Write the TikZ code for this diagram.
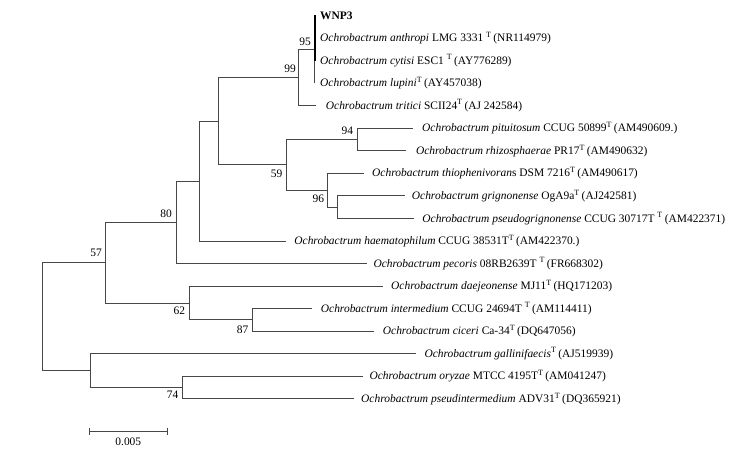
\documentclass[tikz,border=0pt]{standalone}
\usepackage{fontspec}
\setmainfont{Liberation Serif}
\usetikzlibrary{arrows.meta}
\newcommand\supT{\textsuperscript{T}}
\begin{document}
\begin{tikzpicture}[x=1bp,y=-1bp,
  branch/.style={draw=black!72,line width=0.9bp},
  leaf/.style={anchor=west,inner sep=0pt,font=\fontsize{11.5}{13}\selectfont},
  boot/.style={anchor=center,inner sep=0pt,font=\fontsize{11.5}{13}\selectfont}]
\useasboundingbox (0,0) rectangle (736,449);
% internal nodes
\coordinate (root) at (42,316.7);
\coordinate (n57) at (105.3,262.7);
\coordinate (n80) at (176,222.3);
\coordinate (nA) at (199,181.1);
\coordinate (nB) at (218.7,121.2);
\coordinate (n99) at (298.7,77.5);
\coordinate (n95) at (314.7,49.3);
\coordinate (n59) at (286,164.9);
\coordinate (n94) at (357.7,139.5);
\coordinate (n96p) at (327.3,190.3);
\coordinate (n96) at (337.3,207.2);
\coordinate (n62) at (189,303);
\coordinate (n87) at (252,319.9);
\coordinate (nC) at (90.7,370.7);
\coordinate (n74) at (182.7,387.6);
% leaf ends
\coordinate (e0) at (314.7,15.5);
\coordinate (e1) at (314.7,38.05);
\coordinate (e2) at (314.7,60.6);
\coordinate (e3) at (314.7,83.15);
\coordinate (e4) at (316,105.7);
\coordinate (e5) at (413,128.25);
\coordinate (e6) at (406,150.8);
\coordinate (e7) at (364,173.35);
\coordinate (e8) at (405,195.9);
\coordinate (e9) at (414,218.45);
\coordinate (e10) at (286.4,241);
\coordinate (e11) at (366.7,263.55);
\coordinate (e12) at (382.7,286.1);
\coordinate (e13) at (311.7,308.65);
\coordinate (e14) at (374.3,331.2);
\coordinate (e15) at (415.7,353.75);
\coordinate (e16) at (362.7,376.3);
\coordinate (e17) at (354,398.85);
% branches
\draw[branch] (root) |- (n57);
\draw[branch] (root) |- (nC);
\draw[branch] (n57) |- (n80);
\draw[branch] (n57) |- (n62);
\draw[branch] (n80) |- (nA);
\draw[branch] (n80) |- (e11);
\draw[branch] (nA) |- (nB);
\draw[branch] (nA) |- (e10);
\draw[branch] (nB) |- (n99);
\draw[branch] (nB) |- (n59);
\draw[branch] (n99) |- (n95);
\draw[branch] (n99) |- (e4);
\draw[branch] (n95) |- (e0);
\draw[branch] (n95) |- (e3);
\draw[draw=black,line width=2bp] (e0) -- (e2);
\draw[branch] (n59) |- (n94);
\draw[branch] (n59) |- (n96p);
\draw[branch] (n94) |- (e5);
\draw[branch] (n94) |- (e6);
\draw[branch] (n96p) |- (e7);
\draw[branch] (n96p) |- (n96);
\draw[branch] (n96) |- (e8);
\draw[branch] (n96) |- (e9);
\draw[branch] (n62) |- (e12);
\draw[branch] (n62) |- (n87);
\draw[branch] (n87) |- (e13);
\draw[branch] (n87) |- (e14);
\draw[branch] (nC) |- (e15);
\draw[branch] (nC) |- (n74);
\draw[branch] (n74) |- (e16);
\draw[branch] (n74) |- (e17);
% leaf labels
\node[leaf] (t0) at (320,15.5) {\textbf{WNP3}};
\node[leaf] (t1) at (320,38.05) {\textit{Ochrobactrum anthropi} LMG 3331 \supT\,(NR114979)};
\node[leaf] (t2) at (320,60.6) {\textit{Ochrobactrum cytisi} ESC1 \supT\,(AY776289)};
\node[leaf] (t3) at (320,83.15) {\textit{Ochrobactrum lupini}\supT\,(AY457038)};
\node[leaf] (t4) at (325.7,105.7) {\textit{Ochrobactrum tritici} SCII24\supT\,(AJ 242584)};
\node[leaf] (t5) at (422,128.25) {\textit{Ochrobactrum pituitosum} CCUG 50899\supT\,(AM490609.)};
\node[leaf] (t6) at (415.8,150.8) {\textit{Ochrobactrum rhizosphaerae} PR17\supT\,(AM490632)};
\node[leaf] (t7) at (372,173.35) {\textit{Ochrobactrum thiophenivoran}s DSM 7216\supT\,(AM490617)};
\node[leaf] (t8) at (411.7,195.9) {\textit{Ochrobactrum grignonense} OgA9a\supT\,(AJ242581)};
\node[leaf] (t9) at (422.2,218.45) {\textit{Ochrobactrum pseudogrignonense} CCUG 30717T \supT\,(AM422371)};
\node[leaf] (t10) at (294.2,241) {\textit{Ochrobactrum haematophilum} CCUG 38531T\supT\,(AM422370.)};
\node[leaf] (t11) at (373.3,263.55) {\textit{Ochrobactrum pecoris} 08RB2639T \supT\,(FR668302)};
\node[leaf] (t12) at (391,286.1) {\textit{Ochrobactrum daejeonense} MJ11\supT\,(HQ171203)};
\node[leaf] (t13) at (320.7,308.65) {\textit{Ochrobactrum intermedium} CCUG 24694T \supT\,(AM114411)};
\node[leaf] (t14) at (382.7,331.2) {\textit{Ochrobactrum ciceri} Ca-34\supT\,(DQ647056)};
\node[leaf] (t15) at (424.3,353.75) {\textit{Ochrobactrum gallinifaecis}\supT\,(AJ519939)};
\node[leaf] (t16) at (369.3,376.3) {\textit{Ochrobactrum oryzae} MTCC 4195T\supT\,(AM041247)};
\node[leaf] (t17) at (361,398.85) {\textit{Ochrobactrum pseudintermedium} ADV31\supT\,(DQ365921)};
% bootstrap values
\node[boot] (b95) at (305,41.7) {95};
\node[boot] (b99) at (290,69) {99};
\node[boot] (b94) at (347.3,131) {94};
\node[boot] (b59) at (276.7,173.3) {59};
\node[boot] (b96) at (318.3,198.3) {96};
\node[boot] (b80) at (166,213.3) {80};
\node[boot] (b57) at (96,252.7) {57};
\node[boot] (b62) at (179.3,311) {62};
\node[boot] (b87) at (242.7,329.3) {87};
\node[boot] (b74) at (172.7,395) {74};
% scale bar
\coordinate (sbL) at (89,431);
\coordinate (sbR) at (168.3,431);
\draw[branch,{Bar[width=7bp]}-{Bar[width=7bp]}] (sbL) -- (sbR);
\node[boot] (sbl) at (128.3,441.7) {0.005};
\end{tikzpicture}
\end{document}
